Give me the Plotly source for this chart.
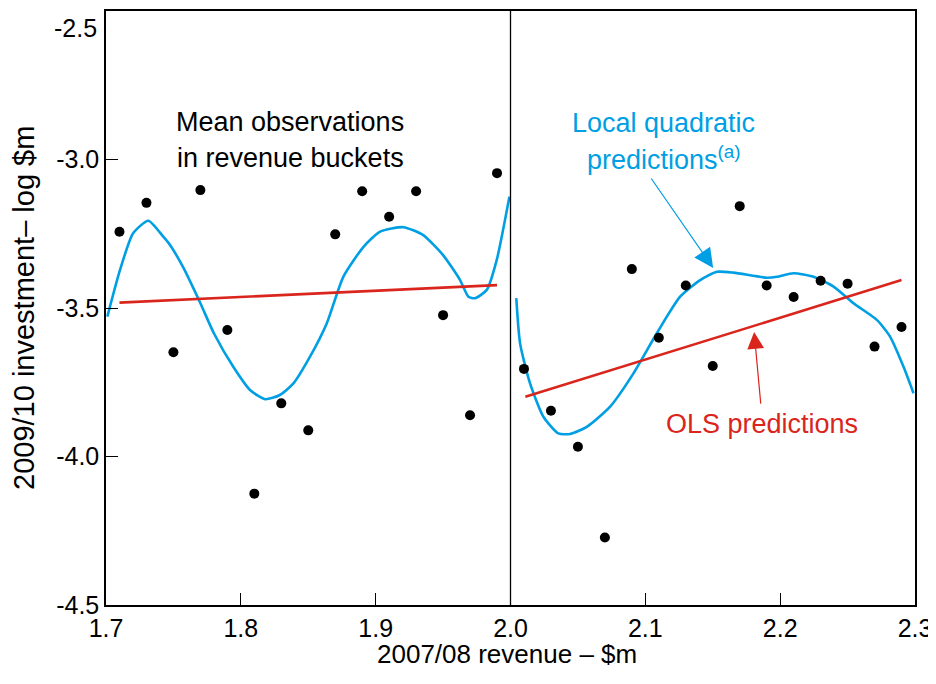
import plotly.graph_objects as go

# Mean observations in revenue buckets
obs_x_left = [1.71, 1.73, 1.75, 1.77, 1.79, 1.81, 1.83, 1.85, 1.87, 1.89, 1.91, 1.93, 1.95, 1.97, 1.99]
obs_y_left = [-3.243, -3.146, -3.649, -3.103, -3.574, -4.125, -3.821, -3.912, -3.252, -3.107, -3.193, -3.107, -3.524, -3.861, -3.046]
obs_x_right = [2.01, 2.03, 2.05, 2.07, 2.09, 2.11, 2.13, 2.15, 2.17, 2.19, 2.21, 2.23, 2.25, 2.27, 2.29]
obs_y_right = [-3.705, -3.846, -3.967, -4.273, -3.369, -3.600, -3.424, -3.695, -3.157, -3.424, -3.463, -3.408, -3.418, -3.630, -3.564]

# OLS predictions (endpoints of fitted lines)
ols_x_left = [1.71, 1.99]
ols_y_left = [-3.482, -3.423]
ols_x_right = [2.011, 2.290]
ols_y_right = [-3.799, -3.406]

# Local quadratic predictions
lq_x_left = [1.701, 1.7104, 1.720, 1.7314, 1.7425, 1.7475, 1.757, 1.770, 1.780, 1.7944, 1.8068, 1.818,
             1.829, 1.839, 1.8513, 1.8637, 1.876, 1.891, 1.9033, 1.9206, 1.935, 1.950, 1.9626, 1.9688,
             1.9737, 1.9824, 1.9898, 1.9992]
lq_y_left = [-3.529, -3.372, -3.249, -3.206, -3.260, -3.288, -3.361, -3.484, -3.585, -3.698, -3.776, -3.807,
             -3.793, -3.754, -3.664, -3.552, -3.395, -3.294, -3.243, -3.228, -3.254, -3.322, -3.406, -3.462,
             -3.467, -3.439, -3.338, -3.125]
lq_x_right = [2.0043, 2.0071, 2.0145, 2.0244, 2.0355, 2.0442, 2.0566, 2.0739, 2.0912, 2.1085, 2.1258, 2.1407,
              2.1530, 2.1654, 2.1901, 2.1976, 2.2099, 2.2248, 2.2396, 2.2544, 2.2717, 2.2816, 2.2915, 2.2989]
lq_y_right = [-3.467, -3.619, -3.754, -3.866, -3.922, -3.924, -3.900, -3.832, -3.720, -3.585, -3.462, -3.406,
              -3.378, -3.381, -3.398, -3.395, -3.383, -3.395, -3.428, -3.484, -3.540, -3.597, -3.698, -3.787]

x_ticks = [1.7, 1.8, 1.9, 2.0, 2.1, 2.2, 2.3]
y_ticks = [-4.5, -4.0, -3.5, -3.0, -2.5]
y_top_label = "-2.5"  # drawn inside the frame, just below the top tick

BLUE = "#009FE3"
RED = "#DA251D"
FONT = "Liberation Sans, Arial, sans-serif"
TICK_SIZE = 25

fig = go.Figure()
for xs, ys in [(lq_x_left, lq_y_left), (lq_x_right, lq_y_right)]:
    fig.add_trace(go.Scatter(x=xs, y=ys, mode="lines", line=dict(color=BLUE, width=2.6, shape="spline", smoothing=0.6),
                             showlegend=False, hoverinfo="skip"))
for xs, ys in [(ols_x_left, ols_y_left), (ols_x_right, ols_y_right)]:
    fig.add_trace(go.Scatter(x=xs, y=ys, mode="lines", line=dict(color=RED, width=2.6),
                             showlegend=False, hoverinfo="skip"))
fig.add_trace(go.Scatter(x=obs_x_left + obs_x_right, y=obs_y_left + obs_y_right, mode="markers",
                         marker=dict(color="black", size=10), showlegend=False))

fig.add_shape(type="line", x0=2.0, x1=2.0, y0=-4.5, y1=-2.5, xref="x", yref="y",
              line=dict(color="black", width=1.3))

ann_font = dict(family=FONT, size=27)
fig.add_annotation(x=1.8365, y=-2.874, text="Mean observations", showarrow=False, font=dict(**ann_font, color="black"))
fig.add_annotation(x=1.8365, y=-2.995, text="in revenue buckets", showarrow=False, font=dict(**ann_font, color="black"))
fig.add_annotation(x=2.1132, y=-2.877, text="Local quadratic", showarrow=False, font=dict(**ann_font, color=BLUE))
fig.add_annotation(x=2.1139, y=-2.995, text="predictions<sup>(a)</sup>", showarrow=False, font=dict(**ann_font, color=BLUE))
fig.add_annotation(x=2.1866, y=-3.8906, text="OLS predictions", showarrow=False, font=dict(**ann_font, color=RED))

# arrows
fig.add_annotation(x=2.1503, y=-3.365, ax=2.1036, ay=-3.059, xref="x", yref="y", axref="x", ayref="y",
                   text="", showarrow=True, arrowhead=2, arrowsize=3.2, arrowwidth=1.2, arrowcolor=BLUE)
fig.add_annotation(x=2.1807, y=-3.581, ax=2.1857, ay=-3.827, xref="x", yref="y", axref="x", ayref="y",
                   text="", showarrow=True, arrowhead=2, arrowsize=2.8, arrowwidth=1.2, arrowcolor=RED)

# top y tick label (sits below the frame top in the original)
fig.add_annotation(x=0, y=y_ticks[-1], xref="paper", yref="y", text=y_top_label, showarrow=False,
                   xanchor="right", yanchor="middle", xshift=-7, yshift=-17,
                   font=dict(family=FONT, size=TICK_SIZE, color="black"))

# axis titles
fig.add_annotation(x=0.4957, y=-0.0825, xref="paper", yref="paper", text="2007/08 revenue – $m",
                   xanchor="center", yanchor="middle",
                   showarrow=False, font=dict(family=FONT, size=26, color="black"))
fig.add_annotation(x=-0.1014, y=0.5, xref="paper", yref="paper", text="2009/10 investment– log $m",
                   xanchor="center", yanchor="middle",
                   textangle=-90, showarrow=False, font=dict(family=FONT, size=29, color="black"))

fig.update_layout(
    width=928, height=676,
    margin=dict(l=98, r=21, t=3, b=79),
    paper_bgcolor="white", plot_bgcolor="white",
    font=dict(family=FONT, size=25, color="black"),
)
fig.update_xaxes(range=[1.7, 2.3], tickvals=x_ticks, ticktext=[f"{v:.1f}" for v in x_ticks],
                 showgrid=False, zeroline=False, showline=True, linecolor="black", linewidth=1.5, mirror=True,
                 ticks="inside", ticklen=12, tickcolor="black", tickwidth=1, automargin=False,
                 ticklabeloverflow="allow", ticklabelstandoff=0,
                 tickfont=dict(family=FONT, size=TICK_SIZE))
fig.update_yaxes(range=[-4.5, -2.5], tickvals=y_ticks,
                 ticktext=[f"{v:.1f}" if v != y_ticks[-1] else "" for v in y_ticks],
                 showgrid=False, zeroline=False, showline=True, linecolor="black", linewidth=1.5, mirror=True,
                 ticks="inside", ticklen=12, tickcolor="black", tickwidth=1, automargin=False,
                 ticklabeloverflow="allow", ticklabelstandoff=0,
                 tickfont=dict(family=FONT, size=TICK_SIZE))

fig.write_html("out.html")
